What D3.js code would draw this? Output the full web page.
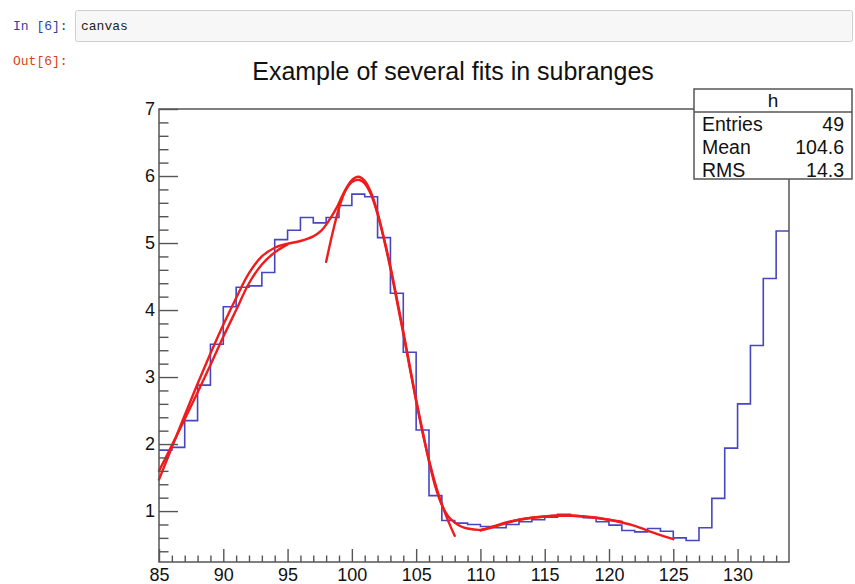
<!DOCTYPE html>
<html>
<head>
<meta charset="utf-8">
<script src="https://cdn.jsdelivr.net/npm/d3@7"></script>
<style>
  body { margin: 0; background: #fff; }
  svg { display: block; }
</style>
</head>
<body>
<div id="chart"></div>
<script>
// histogram "h": 49 bins from 85 to 134
const binRange = [85, 134];
const binContents = [
  1.91, 1.95, 2.35, 2.88, 3.49, 4.05, 4.34, 4.36, 4.56, 5.05,
  5.19, 5.38, 5.30, 5.38, 5.56, 5.73, 5.69, 5.08, 4.25, 3.37,
  2.21, 1.23, 0.86, 0.82, 0.80, 0.77, 0.75, 0.80, 0.84, 0.87,
  0.91, 0.95, 0.93, 0.90, 0.84, 0.79, 0.71, 0.69, 0.74, 0.70,
  0.60, 0.56, 0.75, 1.19, 1.94, 2.60, 3.47, 4.47, 5.18
];
const yRange = [0.24, 7];

// fitted curves as [x, y]
const fitG1 = [[85,1.60],[86,1.98],[87,2.37],[88,2.77],[89,3.18],[90,3.60],[91,4.00],
  [92,4.40],[93,4.68],[94,4.86],[95,4.98]];
const fitG2 = [[98,4.72],[98.5,5.15],[99,5.52],[99.5,5.78],[100,5.91],[100.6,5.94],[101,5.89],
  [101.5,5.72],[102,5.43],[102.5,5.05],[103,4.62],[103.5,4.14],[104,3.65],[104.5,3.14],
  [105,2.64],[105.5,2.17],[106,1.76],[106.5,1.40],[107,1.10],[107.5,0.85],[108,0.63]];
const fitG3 = [[110,0.71],[111,0.77],[112,0.83],[113,0.87],[114,0.90],[115,0.92],[116,0.935],
  [117,0.935],[118,0.92],[119,0.90],[120,0.87],[121,0.84]];
const fitTotal = [[85,1.47],[86,1.95],[87,2.43],[88,2.90],[89,3.35],[90,3.78],[91,4.18],
  [92,4.55],[93,4.80],[94,4.93],[95,4.99],[96,5.03],[97,5.10],[97.6,5.18],[98.2,5.33],
  [98.8,5.52],[99.4,5.76],[100,5.94],[100.5,5.99],[101,5.93],[101.5,5.75],[102,5.45],
  [102.5,5.07],[103,4.65],[103.5,4.17],[104,3.68],[104.5,3.17],[105,2.66],[105.5,2.20],
  [106,1.74],[106.5,1.36],[107,1.09],[107.5,0.92],[108,0.83],[108.5,0.77],[109,0.74],
  [110,0.72],[111,0.76],[112,0.82],[113,0.87],[114,0.90],[115,0.92],[116,0.93],[117,0.93],
  [118,0.92],[119,0.90],[120,0.87],[121,0.83],[122,0.78],[123,0.71],[124,0.64],[125,0.58]];

const xTickLabels = [85, 90, 95, 100, 105, 110, 115, 120, 125, 130];
const yTickLabels = [1, 2, 3, 4, 5, 6, 7];

const statsName = "h";
const statsRows = [["Entries", "49"], ["Mean", "104.6"], ["RMS", "14.3"]];
const titleText = "Example of several fits in subranges";

const W = 855, H = 584;
const frame = {left: 159, right: 789, top: 109, bottom: 562};
const font = "'Liberation Sans', Arial, Helvetica, sans-serif";
const mono = "'Liberation Mono', 'DejaVu Sans Mono', monospace";

const svg = d3.select("#chart").append("svg")
    .attr("width", W)
    .attr("height", H);

// notebook cell decoration
svg.append("text")
    .attr("x", 13).attr("y", 30)
    .attr("font-family", mono).attr("font-size", 13)
    .attr("fill", "#303F9F")
    .text("In [6]:");
svg.append("rect")
    .attr("x", 75.5).attr("y", 10.5)
    .attr("width", 777).attr("height", 31)
    .attr("rx", 2)
    .attr("fill", "#f7f7f7").attr("stroke", "#cfcfcf");
svg.append("text")
    .attr("x", 81).attr("y", 30)
    .attr("font-family", mono).attr("font-size", 13)
    .attr("fill", "#222")
    .text("canvas");
svg.append("text")
    .attr("x", 13).attr("y", 65)
    .attr("font-family", mono).attr("font-size", 13)
    .attr("fill", "#D84315")
    .text("Out[6]:");

// scales
const x = d3.scaleLinear().domain(binRange).range([frame.left, frame.right]);
const y = d3.scaleLinear().domain(yRange).range([frame.bottom, frame.top]);

// title
svg.append("text")
    .attr("x", 453).attr("y", 80)
    .attr("text-anchor", "middle")
    .attr("font-family", font).attr("font-size", 25)
    .attr("fill", "#111")
    .text(titleText);

// histogram outline
const nb = binContents.length;
const bw = (binRange[1] - binRange[0]) / nb;
const steps = binContents.map((v, i) => [binRange[0] + i * bw, v]);
steps.push([binRange[1], binContents[nb - 1]]);
svg.append("path")
    .datum(steps)
    .attr("fill", "none")
    .attr("stroke", "#4646c2")
    .attr("stroke-width", 1.6)
    .attr("d", d3.line()
        .x(d => x(d[0]))
        .y(d => y(d[1]))
        .curve(d3.curveStepAfter));

// fitted functions
const fitLine = d3.line()
    .x(d => x(d[0]))
    .y(d => y(d[1]))
    .curve(d3.curveCatmullRom.alpha(0.5));
svg.append("g")
    .selectAll("path")
    .data([fitG1, fitG2, fitG3, fitTotal])
    .join("path")
    .attr("fill", "none")
    .attr("stroke", "#ee1c1c")
    .attr("stroke-width", 2.4)
    .attr("stroke-linecap", "round")
    .attr("d", fitLine);

// axes
const axisColor = "#555";
const xMinor = d3.range(binRange[0] + 1, binRange[1]).filter(v => !xTickLabels.includes(v));
const yMinor = d3.range(2, 35).map(v => v / 5).filter(v => v > yRange[0] && v % 1 !== 0);

function styleAxis(g) {
  g.select(".domain").remove();
  g.selectAll("line").attr("stroke", axisColor).attr("stroke-width", 1.4);
  g.selectAll("text")
      .attr("font-family", font)
      .attr("font-size", 18)
      .attr("fill", "#111");
}

svg.append("g")
    .attr("transform", `translate(0,${frame.bottom})`)
    .call(d3.axisBottom(x).tickValues(xTickLabels).tickSize(-13).tickPadding(6).tickFormat(d3.format("d")))
    .call(styleAxis);
svg.append("g")
    .attr("transform", `translate(0,${frame.bottom})`)
    .call(d3.axisBottom(x).tickValues(xMinor).tickSize(-6.5).tickFormat(""))
    .call(styleAxis);
svg.append("g")
    .attr("transform", `translate(${frame.left},0)`)
    .call(d3.axisLeft(y).tickValues(yTickLabels).tickSize(-19).tickPadding(4).tickFormat(d3.format("d")))
    .call(styleAxis);
svg.append("g")
    .attr("transform", `translate(${frame.left},0)`)
    .call(d3.axisLeft(y).tickValues(yMinor).tickSize(-9.5).tickFormat(""))
    .call(styleAxis);

// frame
svg.append("rect")
    .attr("x", frame.left).attr("y", frame.top)
    .attr("width", frame.right - frame.left)
    .attr("height", frame.bottom - frame.top)
    .attr("fill", "none")
    .attr("stroke", axisColor)
    .attr("stroke-width", 1.5);

// statistics box
const box = {x: 694, y: 89, w: 158, head: 23, h: 90};
const stats = svg.append("g");
stats.append("rect")
    .attr("x", box.x).attr("y", box.y)
    .attr("width", box.w).attr("height", box.h)
    .attr("fill", "#fff")
    .attr("stroke", axisColor).attr("stroke-width", 1.5);
stats.append("line")
    .attr("x1", box.x).attr("x2", box.x + box.w)
    .attr("y1", box.y + box.head).attr("y2", box.y + box.head)
    .attr("stroke", axisColor).attr("stroke-width", 1.5);
stats.append("text")
    .attr("x", box.x + box.w / 2).attr("y", box.y + 18)
    .attr("text-anchor", "middle")
    .attr("font-family", font).attr("font-size", 19)
    .attr("fill", "#111")
    .text(statsName);
statsRows.forEach((r, i) => {
  const by = box.y + box.head + 19 + i * 23;
  stats.append("text")
      .attr("x", box.x + 8).attr("y", by)
      .attr("font-family", font).attr("font-size", 19.5)
      .attr("fill", "#111")
      .text(r[0]);
  stats.append("text")
      .attr("x", box.x + box.w - 8).attr("y", by)
      .attr("text-anchor", "end")
      .attr("font-family", font).attr("font-size", 19.5)
      .attr("fill", "#111")
      .text(r[1]);
});
</script>
</body>
</html>
